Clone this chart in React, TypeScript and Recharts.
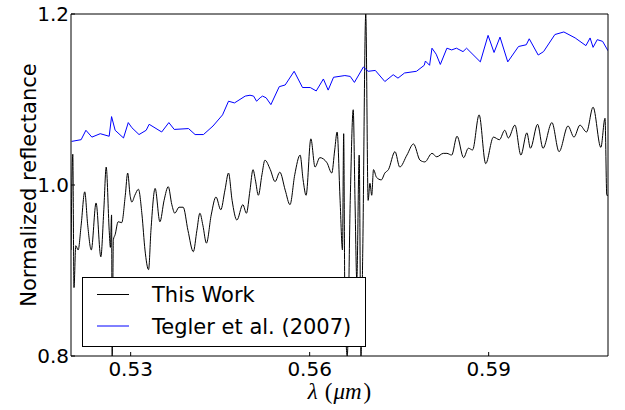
import { LineChart, Line, XAxis, YAxis, Legend } from 'recharts';

// wavelength (um) and normalized reflectance
const workLambda = [
  0.52, 0.5203, 0.5205, 0.5208, 0.5212, 0.5217, 0.5223, 0.5228, 0.5234, 0.5242,
  0.525, 0.5255, 0.5259, 0.5264, 0.5266, 0.5268, 0.5269, 0.5271, 0.5274, 0.5279,
  0.5285, 0.5291, 0.5295, 0.5299, 0.5302, 0.5307, 0.5313, 0.5319, 0.5324, 0.533,
  0.5334, 0.5341, 0.5349, 0.5356, 0.5363, 0.5369, 0.5374, 0.5381, 0.5388, 0.5396,
  0.5405, 0.5411, 0.5416, 0.5421, 0.5427, 0.5435, 0.5443, 0.5451, 0.5458, 0.5464,
  0.547, 0.5478, 0.5488, 0.5494, 0.55, 0.5505, 0.5509, 0.5514, 0.552, 0.5525,
  0.5534, 0.5542, 0.555, 0.5559, 0.5567, 0.5575, 0.5584, 0.5589, 0.5594, 0.5602,
  0.5609, 0.5617, 0.5629, 0.5637, 0.5642, 0.5646, 0.5651, 0.5655, 0.5657, 0.5659,
  0.5663, 0.5668, 0.5673, 0.5676, 0.5679, 0.5683, 0.5686, 0.5689, 0.5694, 0.5698,
  0.5701, 0.5704, 0.5707, 0.5712, 0.572, 0.5726, 0.5732, 0.5743, 0.5751, 0.5763,
  0.5774, 0.5785, 0.5793, 0.5805, 0.5813, 0.5824, 0.583, 0.5838, 0.5847, 0.5858,
  0.5866, 0.5873, 0.5884, 0.5895, 0.5908, 0.5918, 0.5927, 0.5933, 0.5944, 0.5954,
  0.5964, 0.597, 0.5982, 0.5991, 0.6006, 0.6018, 0.6033, 0.6043, 0.6053, 0.6064,
  0.6075, 0.6088, 0.6095, 0.6098, 0.61,
];
const workRefl = [
  0.924, 1.036, 0.88, 0.929, 0.924, 0.953, 0.992, 0.953, 0.924, 0.979,
  0.916, 0.971, 1.021, 0.947, 0.927, 0.965, 0.8, 0.936, 0.942, 0.957,
  0.956, 0.988, 1.014, 0.988, 0.98, 0.988, 0.995, 0.965, 0.924, 0.901,
  0.947, 0.996, 0.957, 0.982, 0.998, 0.977, 0.967, 0.974, 0.974, 0.947,
  0.922, 0.947, 0.967, 0.953, 0.932, 0.965, 0.986, 0.971, 0.994, 1.014,
  0.982, 0.959, 0.977, 0.967, 0.994, 1.018, 1.006, 0.988, 1.012, 1.029,
  1.018, 1.004, 1.015, 0.994, 0.977, 1.012, 1.035, 1.006, 0.988, 1.054,
  1.021, 1.032, 1.026, 1.014, 1.041, 1.062, 0.982, 0.924, 1.06, 0.866,
  0.8, 0.982, 1.088, 0.982, 0.889, 1.035, 0.8, 0.924, 1.2, 0.982,
  1.002, 0.988, 1.018, 1.009, 1.006, 1.014, 1.018, 1.039, 1.021, 1.035,
  1.048, 1.029, 1.027, 1.037, 1.033, 1.037, 1.037, 1.035, 1.057, 1.032,
  1.043, 1.041, 1.082, 1.025, 1.056, 1.053, 1.064, 1.055, 1.07, 1.035,
  1.061, 1.043, 1.071, 1.043, 1.073, 1.039, 1.069, 1.056, 1.07, 1.062,
  1.091, 1.044, 1.078, 0.988, 0.988,
];

const teglerLambda = [
  0.5201, 0.5217, 0.5225, 0.5235, 0.5249, 0.5264, 0.5268, 0.5274, 0.5288, 0.5296,
  0.5302, 0.5314, 0.5326, 0.5331, 0.5352, 0.5364, 0.5373, 0.5397, 0.5408, 0.5422,
  0.5438, 0.5454, 0.5464, 0.5474, 0.5492, 0.55, 0.5506, 0.5511, 0.5517, 0.5521,
  0.5527, 0.5535, 0.5549, 0.5559, 0.5574, 0.5588, 0.5601, 0.5611, 0.5623, 0.5631,
  0.564, 0.5659, 0.5668, 0.5675, 0.569, 0.5698, 0.571, 0.5726, 0.574, 0.5748,
  0.5759, 0.5779, 0.5792, 0.5794, 0.5801, 0.5805, 0.5812, 0.5819, 0.583, 0.5838,
  0.5846, 0.5857, 0.5863, 0.5886, 0.5899, 0.5909, 0.5919, 0.5932, 0.595, 0.5963,
  0.5968, 0.5983, 0.5992, 0.6011, 0.6026, 0.6045, 0.6063, 0.607, 0.6075, 0.6082,
  0.6091, 0.61,
];
const teglerRefl = [
  1.051, 1.053, 1.064, 1.056, 1.06, 1.057, 1.08, 1.064, 1.055, 1.073,
  1.067, 1.059, 1.064, 1.071, 1.062, 1.073, 1.065, 1.066, 1.059, 1.059,
  1.069, 1.082, 1.098, 1.096, 1.104, 1.105, 1.104, 1.098, 1.102, 1.104,
  1.102, 1.094, 1.115, 1.117, 1.133, 1.114, 1.114, 1.11, 1.124, 1.111,
  1.126, 1.128, 1.127, 1.12, 1.138, 1.133, 1.134, 1.121, 1.129, 1.125,
  1.131, 1.133, 1.14, 1.145, 1.14, 1.16, 1.153, 1.141, 1.16, 1.158,
  1.16, 1.156, 1.16, 1.144, 1.175, 1.155, 1.173, 1.144, 1.162, 1.164,
  1.171, 1.152, 1.156, 1.176, 1.179, 1.172, 1.163, 1.172, 1.161, 1.17,
  1.168, 1.157,
];

const seriesNames = ['This Work', 'Tegler et al. (2007)'];
const xTicks = [0.53, 0.56, 0.59];
const yTicks = [0.8, 1.0, 1.2];

const workData = workLambda.map((x, i) => ({ x, y: workRefl[i] }));
const teglerData = teglerLambda.map((x, i) => ({ x, y: teglerRefl[i] }));

const FONT = 'DejaVu Sans';

const LegendBox = ({ payload }: any) => {
  const items = [...(payload || [])].sort(
    (a: any, b: any) => seriesNames.indexOf(a.value) - seriesNames.indexOf(b.value)
  );
  return (
    <svg width={284} height={70} style={{ display: 'block' }}>
      <rect x={0.5} y={0.5} width={283} height={69} fill="#fff" stroke="#000" strokeWidth={1} />
      {items.map((p: any, i: number) => (
        <g key={p.value}>
          <line x1={15} x2={47} y1={17.5 + i * 31.5} y2={17.5 + i * 31.5} stroke={p.color} strokeWidth={1} />
          <text x={70} y={17.5 + i * 31.5} dy="0.36em" fontFamily={FONT} fontSize={21} fill="#000">
            {p.value}
          </text>
        </g>
      ))}
    </svg>
  );
};

export default function App() {
  const tickStyle = { fontFamily: FONT, fontSize: 20, fill: '#000' };
  return (
    <div style={{ position: 'absolute', left: 0, top: 0, width: 625, height: 410, background: '#fff' }}>
      <LineChart width={625} height={410} margin={{ top: 0, right: 0, bottom: 0, left: 0 }}>
        <XAxis
          dataKey="x"
          type="number"
          domain={[0.52, 0.61]}
          ticks={xTicks}
          allowDataOverflow
          height={54}
          tickSize={-4}
          tickMargin={10}
          tick={tickStyle}
          stroke="#000"
          tickFormatter={(v: number) => v.toFixed(2)}
          label={({ viewBox }: any) => (
            <text
              x={viewBox.x + viewBox.width / 2}
              y={viewBox.y + 43}
              textAnchor="middle"
              fontFamily="Liberation Serif"
              fontSize={23}
              fill="#000"
            >
              <tspan fontStyle="italic">λ</tspan>
              <tspan dx={7}>(</tspan>
              <tspan dx={1} fontStyle="italic">μm</tspan>
              <tspan dx={2}>)</tspan>
            </text>
          )}
        />
        <XAxis
          xAxisId="top"
          orientation="top"
          dataKey="x"
          type="number"
          domain={[0.52, 0.61]}
          ticks={xTicks}
          allowDataOverflow
          height={14}
          tickSize={-4}
          tick={false}
          stroke="#000"
        />
        <YAxis
          type="number"
          domain={[0.8, 1.2]}
          ticks={yTicks}
          allowDataOverflow
          width={71}
          tickSize={-4}
          tickMargin={6}
          tick={tickStyle}
          stroke="#000"
          tickFormatter={(v: number) => v.toFixed(1)}
          label={({ viewBox }: any) => (
            <text
              x={29}
              y={viewBox.y + viewBox.height / 2}
              transform={`rotate(-90, 29, ${viewBox.y + viewBox.height / 2})`}
              textAnchor="middle"
              dominantBaseline="central"
              fontFamily={FONT}
              fontSize={21}
              fill="#000"
            >
              Normalized reflectance
            </text>
          )}
        />
        <YAxis
          yAxisId="right"
          orientation="right"
          type="number"
          domain={[0.8, 1.2]}
          ticks={yTicks}
          allowDataOverflow
          width={17}
          tickSize={-4}
          tick={false}
          stroke="#000"
        />
        <Line
          data={workData}
          dataKey="y"
          name={seriesNames[0]}
          type="monotone"
          stroke="#000000"
          strokeWidth={1}
          dot={false}
          isAnimationActive={false}
        />
        <Line
          data={teglerData}
          dataKey="y"
          name={seriesNames[1]}
          type="linear"
          stroke="#0000ff"
          strokeWidth={1}
          dot={false}
          isAnimationActive={false}
        />
        <Legend
          layout="vertical"
          align="center"
          verticalAlign="middle"
          wrapperStyle={{ left: 82, top: 277, width: 284, height: 70 }}
          content={<LegendBox />}
        />
      </LineChart>
    </div>
  );
}
